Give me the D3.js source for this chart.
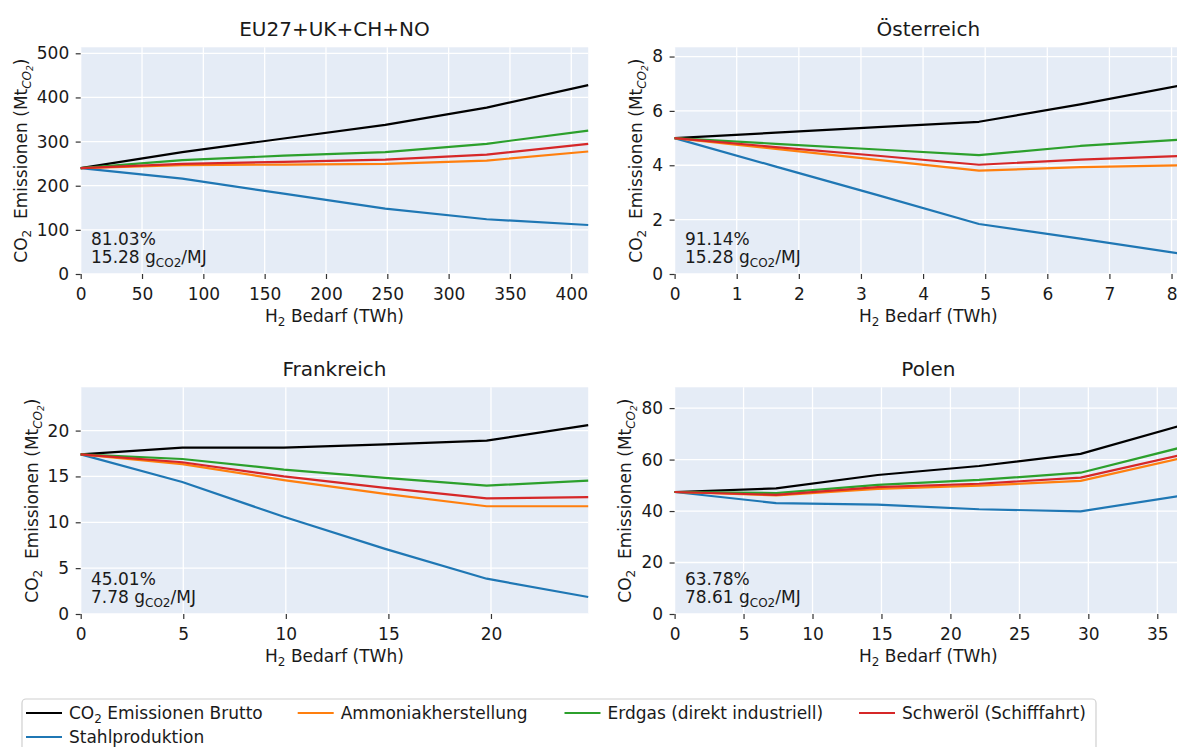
<!DOCTYPE html>
<html>
<head>
<meta charset="utf-8">
<script src="https://cdn.jsdelivr.net/npm/d3@7"></script>
<style>
  body { margin: 0; background: #fff; }
  svg { display: block; }
  text { font-family: "DejaVu Sans", sans-serif; fill: #1a1a1a; }
</style>
</head>
<body>
<svg id="chart" width="1177" height="747"></svg>
<script>
// ---- data --------------------------------------------------------------
const seriesNames = ["CO₂ Emissionen Brutto", "Stahlproduktion", "Ammoniakherstellung",
                     "Erdgas (direkt industriell)", "Schweröl (Schifffahrt)"];
const seriesColors = ["#000000", "#1f77b4", "#ff7f0e", "#2ca02c", "#d62728"];

const regionTitles = ["EU27+UK+CH+NO", "Österreich", "Frankreich", "Polen"];
const shareTexts = ["81.03%", "91.14%", "45.01%", "63.78%"];
const intensityTexts = ["15.28", "15.28", "7.78", "78.61"];

// H2 demand (TWh) per region
const euDemand = [0, 82.8, 165.5, 248.3, 331, 413.8];
const atDemand = [0, 1.63, 3.27, 4.9, 6.53, 8.17];
const frDemand = [0, 4.95, 9.9, 14.84, 19.79, 24.74];
const plDemand = [0, 7.36, 14.72, 22.08, 29.44, 36.8];

// emissions (Mt CO2): Brutto, Stahl, Ammoniak, Erdgas, Schweröl
const euBrutto    = [240, 276, 307, 338, 377, 428];
const euStahl     = [240, 216, 182, 148, 124, 111];
const euAmmoniak  = [240, 246.5, 248, 249.5, 257, 277.5];
const euErdgas    = [240, 258, 268, 276, 295, 325];
const euSchweroel = [240, 249.5, 254, 259, 270.5, 295];

const atBrutto    = [5.0, 5.2, 5.4, 5.6, 6.24, 6.95];
const atStahl     = [5.0, 3.95, 2.9, 1.84, 1.3, 0.74];
const atAmmoniak  = [5.0, 4.6, 4.2, 3.8, 3.93, 4.0];
const atErdgas    = [5.0, 4.79, 4.58, 4.37, 4.71, 4.95];
const atSchweroel = [5.0, 4.67, 4.35, 4.02, 4.21, 4.34];

const frBrutto    = [17.4, 18.15, 18.15, 18.5, 18.9, 20.6];
const frStahl     = [17.4, 14.4, 10.6, 7.1, 3.85, 1.85];
const frAmmoniak  = [17.4, 16.35, 14.6, 13.1, 11.75, 11.75];
const frErdgas    = [17.4, 16.9, 15.75, 14.85, 14.0, 14.55];
const frSchweroel = [17.4, 16.55, 15.0, 13.75, 12.6, 12.75];

const plBrutto    = [47.4, 48.8, 54.0, 57.5, 62.2, 73.4];
const plStahl     = [47.4, 43.1, 42.5, 40.7, 39.9, 46.0];
const plAmmoniak  = [47.4, 46.1, 48.6, 49.9, 51.7, 60.6];
const plErdgas    = [47.4, 47.0, 50.2, 52.1, 54.9, 64.8];
const plSchweroel = [47.4, 46.3, 49.3, 50.6, 53.0, 61.9];

// tick values
const euTicksX = [0, 50, 100, 150, 200, 250, 300, 350, 400];
const euTicksY = [0, 100, 200, 300, 400, 500];
const atTicksX = [0, 1, 2, 3, 4, 5, 6, 7, 8];
const atTicksY = [0, 2, 4, 6, 8];
const frTicksX = [0, 5, 10, 15, 20];
const frTicksY = [0, 5, 10, 15, 20];
const plTicksX = [0, 5, 10, 15, 20, 25, 30, 35];
const plTicksY = [0, 20, 40, 60, 80];

const panels = [
  { demand: euDemand, series: [euBrutto, euStahl, euAmmoniak, euErdgas, euSchweroel], tx: euTicksX, ty: euTicksY },
  { demand: atDemand, series: [atBrutto, atStahl, atAmmoniak, atErdgas, atSchweroel], tx: atTicksX, ty: atTicksY },
  { demand: frDemand, series: [frBrutto, frStahl, frAmmoniak, frErdgas, frSchweroel], tx: frTicksX, ty: frTicksY },
  { demand: plDemand, series: [plBrutto, plStahl, plAmmoniak, plErdgas, plSchweroel], tx: plTicksX, ty: plTicksY }
];

// ---- layout ------------------------------------------------------------
const colX = [80.7, 674.6];
const plotW = 507.5;
const rowY = [47.3, 387.3];
const plotH = 226.7;
const FS = 17;

const svg = d3.select("#chart");

panels.forEach((p, i) => {
  const left = colX[i % 2], top = rowY[Math.floor(i / 2)];
  const g = svg.append("g").attr("transform", `translate(${left},${top})`);

  const xMax = d3.max(p.demand);
  const yMax = 1.2 * d3.max(p.series.flat());
  const x = d3.scaleLinear().domain([0, xMax]).range([0, plotW]);
  const y = d3.scaleLinear().domain([0, yMax]).range([plotH, 0]);

  // background + grid
  g.append("rect").attr("width", plotW).attr("height", plotH).attr("fill", "#e5ecf6");
  g.selectAll(".gx").data(p.tx).join("line")
    .attr("x1", d => x(d)).attr("x2", d => x(d)).attr("y1", 0).attr("y2", plotH)
    .attr("stroke", "#fff").attr("stroke-width", 1.3);
  g.selectAll(".gy").data(p.ty).join("line")
    .attr("x1", 0).attr("x2", plotW).attr("y1", d => y(d)).attr("y2", d => y(d))
    .attr("stroke", "#fff").attr("stroke-width", 1.3);

  // axes
  const ax = g.append("g").attr("transform", `translate(0,${plotH})`)
    .call(d3.axisBottom(x).tickValues(p.tx).tickSize(5).tickPadding(8.9).tickFormat(d3.format("d")));
  const ay = g.append("g")
    .call(d3.axisLeft(y).tickValues(p.ty).tickSize(5).tickPadding(6.5).tickFormat(d3.format("d")));
  [ax, ay].forEach(a => {
    a.select(".domain").remove();
    a.selectAll(".tick line").attr("stroke", "#333").attr("stroke-width", 1.2);
    a.selectAll(".tick text").attr("font-size", FS).attr("font-family", "DejaVu Sans").attr("fill", "#1a1a1a");
  });

  // series lines
  const line = d3.line().x((d, k) => x(p.demand[k])).y(d => y(d));
  p.series.forEach((s, k) => {
    g.append("path").datum(s).attr("d", line)
      .attr("fill", "none").attr("stroke", seriesColors[k]).attr("stroke-width", 2.2)
      .attr("stroke-linejoin", "round");
  });

  // title
  g.append("text").attr("x", plotW / 2).attr("y", -11.5).attr("text-anchor", "middle")
    .attr("font-size", 20).text(regionTitles[i]);

  // x label: H2 Bedarf (TWh)
  const xl = g.append("text").attr("x", plotW / 2).attr("y", plotH + 48.5)
    .attr("text-anchor", "middle").attr("font-size", FS);
  xl.append("tspan").text("H");
  xl.append("tspan").attr("font-size", 12).attr("dy", 4).text("2");
  xl.append("tspan").attr("dy", -4).text(" Bedarf (TWh)");

  // y label: CO2  Emissionen (Mt_CO2)
  const minTickX = d3.min(ay.selectAll(".tick text").nodes(), n => n.getBBox().x);
  const yl = g.append("text")
    .attr("transform", `translate(${minTickX - 10},${plotH / 2}) rotate(-90)`)
    .attr("text-anchor", "middle").attr("font-size", FS);
  yl.append("tspan").text("CO");
  yl.append("tspan").attr("font-size", 12).attr("dy", 4).text("2");
  yl.append("tspan").attr("dy", -4).text("\u00a0\u00a0Emissionen (Mt");
  yl.append("tspan").attr("font-size", 12).attr("font-style", "italic").attr("dy", 4).text("CO");
  yl.append("tspan").attr("font-size", 9).attr("font-style", "italic").attr("dy", 2).text("2");
  yl.append("tspan").attr("dy", -6).text(")");

  // annotation
  g.append("text").attr("x", 10.3).attr("y", plotH - 29).attr("font-size", FS).text(shareTexts[i]);
  const an = g.append("text").attr("x", 10.3).attr("y", plotH - 10.5).attr("font-size", FS);
  an.append("tspan").text(intensityTexts[i] + " g");
  an.append("tspan").attr("font-size", 12).attr("dy", 4).text("CO2");
  an.append("tspan").attr("dy", -4).text("/MJ");
});

// ---- legend ------------------------------------------------------------
const legend = svg.append("g");
legend.append("rect").attr("x", 22).attr("y", 699).attr("width", 1074).attr("height", 62)
  .attr("rx", 4).attr("fill", "#fff").attr("stroke", "#d0d0d0").attr("stroke-width", 1.2);

// order of entries as laid out in the legend box
const legendOrder = [0, 2, 3, 4, 1];
const legendPos = [[26, 713], [297.7, 713], [564.5, 713], [859, 713], [26, 737]];
legendOrder.forEach((k, j) => {
  const [lx, ly] = legendPos[j];
  legend.append("line").attr("x1", lx).attr("x2", lx + 36).attr("y1", ly).attr("y2", ly)
    .attr("stroke", seriesColors[k]).attr("stroke-width", 2.2);
  const t = legend.append("text").attr("x", lx + 43).attr("y", ly + 5.8).attr("font-size", FS);
  if (k === 0) {
    t.append("tspan").text("CO");
    t.append("tspan").attr("font-size", 12).attr("dy", 4).text("2");
    t.append("tspan").attr("dy", -4).text(" Emissionen Brutto");
  } else {
    t.text(seriesNames[k]);
  }
});
</script>
</body>
</html>
